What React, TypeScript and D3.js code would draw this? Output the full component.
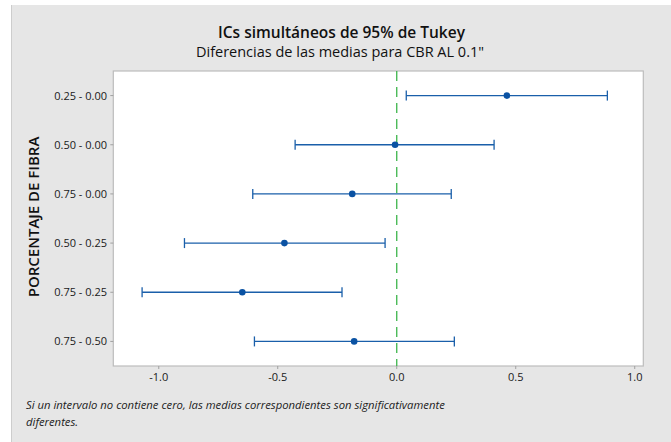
import React from "react";
import * as d3 from "d3";

const categories = ["0.25 - 0.00", "0.50 - 0.00", "0.75 - 0.00", "0.50 - 0.25", "0.75 - 0.25", "0.75 - 0.50"];
const centers = [0.463, -0.007, -0.187, -0.472, -0.649, -0.179];
const lowers = [0.040, -0.427, -0.605, -0.892, -1.070, -0.598];
const uppers = [0.885, 0.409, 0.229, -0.049, -0.230, 0.242];
const xTicks = [-1.0, -0.5, 0.0, 0.5, 1.0];

const title = "ICs simultáneos de 95% de Tukey";
const subtitle = "Diferencias de las medias para CBR AL 0.1\"";
const yTitle = "PORCENTAJE DE FIBRA";
const note1 = "Si un intervalo no contiene cero, las medias correspondientes son significativamente";
const note2 = "diferentes.";

const W = 671, H = 442;
const plot = { left: 113.3, right: 643.3, top: 71, bottom: 366 };
const FONT = "'Open Sans', 'Noto Sans', sans-serif";
const BLUE = "#1a5faa";

export default function App() {
  const x = d3.scaleLinear().domain([-1.191, 1.036]).range([plot.left, plot.right]);
  const y = d3.scaleBand<string>().domain(categories).range([plot.top, plot.bottom]).padding(0);
  const yc = (c: string) => (y(c) as number) + y.bandwidth() / 2;
  const cap = 5;
  const fmt = (t: number) => d3.format(".1f")(t).replace("\u2212", "-");

  return (
    <div style={{ position: "absolute", left: 0, top: 0 }}>
      <svg width={W} height={H} style={{ display: "block" }}>
        <rect x={0} y={0} width={W} height={H} fill="#ffffff" />
        <rect x={11} y={5} width={W - 11} height={H - 5} fill="#e6e6e6" />
        <line x1={11.5} x2={11.5} y1={5} y2={H} stroke="#cdcdcd" strokeWidth={1} />

        <text x={341.5} y={38} textAnchor="middle" fontFamily={FONT} fontSize={15.5} fontWeight={600} fill="#111">
          {title}
        </text>
        <text x={340} y={57} textAnchor="middle" fontFamily={FONT} fontSize={14.5} fill="#111">
          {subtitle}
        </text>

        <rect x={plot.left} y={plot.top} width={plot.right - plot.left} height={plot.bottom - plot.top}
          fill="#ffffff" stroke="#bcbcbc" strokeWidth={1.2} />

        {/* x ticks */}
        {xTicks.map((t) => (
          <g key={t}>
            <line x1={x(t)} x2={x(t)} y1={plot.bottom} y2={plot.bottom + 3} stroke="#a0a0a0" />
            <text x={x(t)} y={381} textAnchor="middle" fontFamily={FONT} fontSize={11} fontWeight={500} fill="#1a1a1a">
              {fmt(t)}
            </text>
          </g>
        ))}

        {/* y ticks */}
        {categories.map((c) => (
          <g key={c}>
            <line x1={plot.left - 3} x2={plot.left} y1={yc(c)} y2={yc(c)} stroke="#a0a0a0" />
            <text x={107} y={yc(c) + 4} textAnchor="end" fontFamily={FONT} fontSize={11} fontWeight={500} fill="#1a1a1a">
              {c}
            </text>
          </g>
        ))}

        <text transform={`translate(38.5,217) rotate(-90)`} textAnchor="middle" fontFamily={FONT}
          fontSize={15} fontWeight={600} fill="#111">
          {yTitle}
        </text>

        {/* zero reference line */}
        <line x1={x(0)} x2={x(0)} y1={plot.top} y2={plot.bottom} stroke="#3cb54a" strokeWidth={1.3}
          strokeDasharray="10,6" />

        {/* intervals */}
        {categories.map((c, i) => (
          <g key={c}>
            <line x1={x(lowers[i])} x2={x(uppers[i])} y1={yc(c)} y2={yc(c)} stroke={BLUE} strokeWidth={1.3} />
            <line x1={x(lowers[i])} x2={x(lowers[i])} y1={yc(c) - cap} y2={yc(c) + cap} stroke={BLUE} strokeWidth={1.3} />
            <line x1={x(uppers[i])} x2={x(uppers[i])} y1={yc(c) - cap} y2={yc(c) + cap} stroke={BLUE} strokeWidth={1.3} />
            <circle cx={x(centers[i])} cy={yc(c)} r={3.3} fill="#0a52a3" />
          </g>
        ))}

        <text x={26} y={409} fontFamily={FONT} fontSize={11.3} fontStyle="italic" fill="#222">{note1}</text>
        <text x={26} y={426} fontFamily={FONT} fontSize={11.3} fontStyle="italic" fill="#222">{note2}</text>
      </svg>
    </div>
  );
}
